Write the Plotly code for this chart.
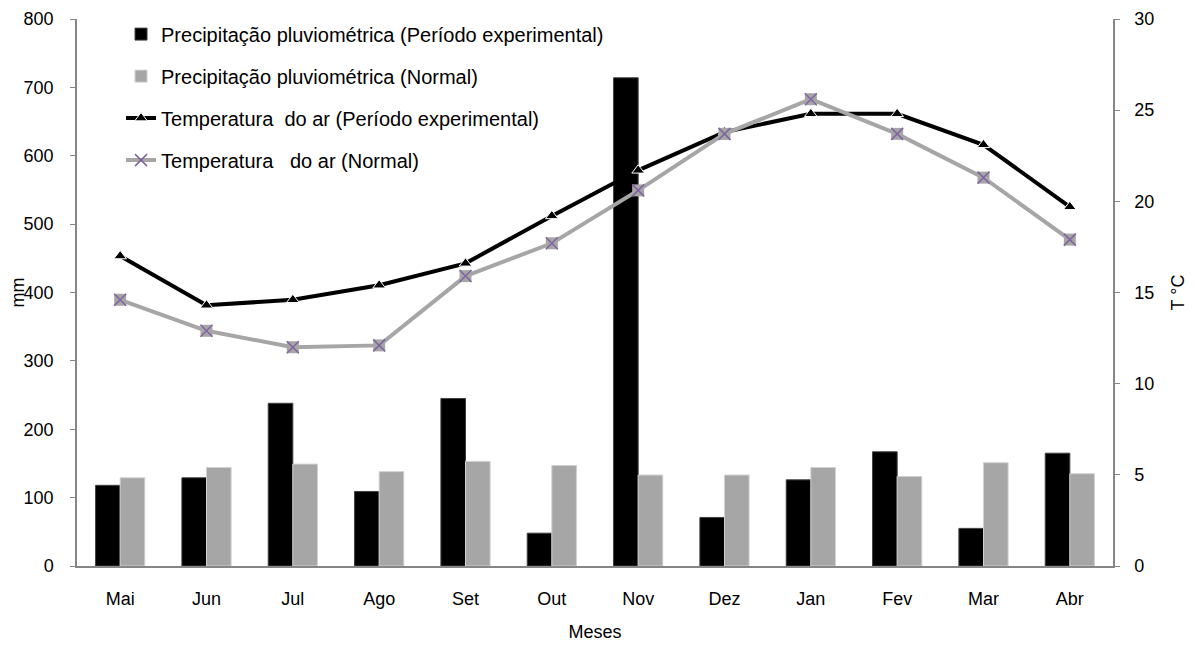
import plotly.graph_objects as go

meses = ["Mai", "Jun", "Jul", "Ago", "Set", "Out", "Nov", "Dez", "Jan", "Fev", "Mar", "Abr"]
prec_exp = [118, 129, 238, 109, 245, 48, 714, 71, 126, 167, 55, 165]
prec_normal = [129, 144, 149, 138, 153, 147, 133, 133, 144, 131, 151, 135]
temp_exp = [17.0, 14.3, 14.6, 15.4, 16.6, 19.2, 21.7, 23.8, 24.8, 24.8, 23.1, 19.7]
temp_normal = [14.6, 12.9, 12.0, 12.1, 15.9, 17.7, 20.6, 23.7, 25.6, 23.7, 21.3, 17.9]

FONT = "Liberation Sans, Arial, sans-serif"
TICK = 18
LEG = 20

fig = go.Figure()
fig.add_trace(go.Bar(x=meses, y=prec_exp, name="Precipitação pluviométrica (Período experimental)",
                     marker=dict(color="black", line=dict(color="#404040", width=1)),
                     legendgroup="a", legendrank=1))
fig.add_trace(go.Bar(x=meses, y=prec_normal, name="Precipitação pluviométrica (Normal)",
                     marker=dict(color="#a6a6a6", line=dict(color="#d0d0d0", width=1)),
                     legendgroup="b", legendrank=2))
fig.add_trace(go.Scatter(x=meses, y=temp_exp, yaxis="y2", mode="lines+markers",
                         name="Temperatura  do ar (Período experimental)",
                         line=dict(color="black", width=4),
                         marker=dict(symbol="triangle-up", size=11, color="black",
                                     line=dict(color="white", width=1)),
                         legendgroup="c", legendrank=3))
fig.add_trace(go.Scatter(x=meses, y=temp_normal, yaxis="y2", mode="markers",
                         showlegend=False, hoverinfo="skip",
                         marker=dict(symbol="square", size=12, color="#a6a6a6"),
                         legendgroup="d"))
fig.add_trace(go.Scatter(x=meses, y=temp_normal, yaxis="y2", mode="lines+markers",
                         name="Temperatura   do ar (Normal)",
                         line=dict(color="#a6a6a6", width=4),
                         marker=dict(symbol="x-thin-open", size=12, color="#8064a2",
                                     line=dict(color="#8064a2", width=1.5)),
                         legendgroup="d", legendrank=4))

fig.update_layout(
    width=1190, height=638,
    margin=dict(l=69, r=85, t=7, b=80),
    plot_bgcolor="white", paper_bgcolor="white",
    font=dict(family=FONT, size=TICK, color="black"),
    barmode="group", bargap=0.43, bargroupgap=0,
    showlegend=True,
    legend=dict(x=0.0425, y=1.008, xanchor="left", yanchor="top",
                bgcolor="rgba(0,0,0,0)", font=dict(size=LEG, family=FONT),
                tracegroupgap=13, traceorder="grouped"),
    xaxis=dict(range=[-0.5, len(meses) - 0.5], autorange=False,
               showline=True, linecolor="#868686", linewidth=1.5, ticks="",
               ticklabelstandoff=16, automargin=False,
               title=dict(text="Meses", font=dict(size=TICK), standoff=17),
               tickfont=dict(size=TICK)),
    yaxis=dict(range=[0, 800], dtick=100, showgrid=False, zeroline=False,
               showline=True, linecolor="#868686", linewidth=1.5,
               ticks="outside", ticklen=5, tickcolor="#868686",
               ticklabelstandoff=13, ticklabeloverflow="allow", automargin=False,
               tickfont=dict(size=TICK)),
    yaxis2=dict(range=[0, 30], dtick=5, overlaying="y", side="right",
                showgrid=False, zeroline=False,
                showline=True, linecolor="#868686", linewidth=1.5,
                ticks="outside", ticklen=5, tickcolor="#868686",
                ticklabelstandoff=11, ticklabeloverflow="allow", automargin=False,
                title=dict(text="T °C", font=dict(size=TICK), standoff=18),
                tickfont=dict(size=TICK)),
    annotations=[dict(text="mm", textangle=-90, xref="paper", yref="paper",
                      x=-0.057, y=0.5, xanchor="center", yanchor="middle",
                      showarrow=False, font=dict(size=TICK, family=FONT))],
)

fig.write_html("out.html")
